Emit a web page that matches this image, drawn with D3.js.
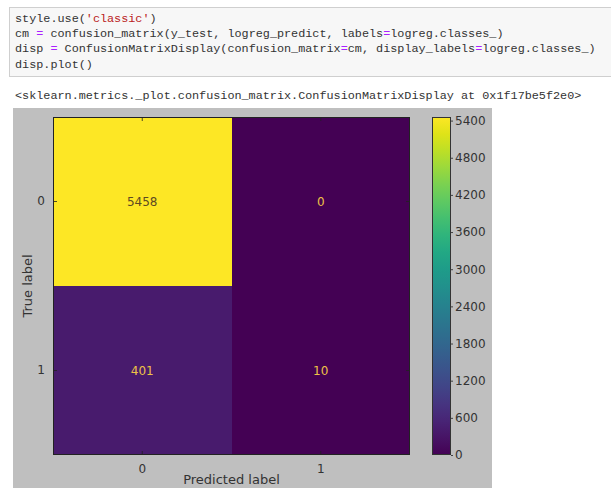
<!DOCTYPE html>
<html>
<head>
<meta charset="utf-8">
<script src="https://cdn.jsdelivr.net/npm/d3@7"></script>
<style>
  html, body { margin: 0; padding: 0; background: #fff; }
  svg { display: block; }
</style>
</head>
<body>
<script>
// Notebook cell source: each line is a list of [text, kind] tokens
const codeLines = [
  [["style.use(", "code"], ["'classic'", "str"], [")", "code"]],
  [["cm ", "code"], ["=", "op"], [" confusion_matrix(y_test, logreg_predict, labels", "code"], ["=", "op"], ["logreg.classes_)", "code"]],
  [["disp ", "code"], ["=", "op"], [" ConfusionMatrixDisplay(confusion_matrix", "code"], ["=", "op"], ["cm, display_labels", "code"], ["=", "op"], ["logreg.classes_)", "code"]],
  [["disp.plot()", "code"]]
];
const outputLine = "<sklearn.metrics._plot.confusion_matrix.ConfusionMatrixDisplay at 0x1f17be5f2e0>";

// Confusion matrix
const trueLabels = ["0", "1"];
const predLabels = ["0", "1"];
const row0 = [5458, 0];
const row1 = [401, 10];
const colorbarTicks = [0, 600, 1200, 1800, 2400, 3000, 3600, 4200, 4800, 5400];

const matrix = [row0, row1];
const cells = [];
matrix.forEach((row, i) => row.forEach((v, j) => cells.push({ t: trueLabels[i], p: predLabels[j], v })));
const vmin = d3.min(cells, d => d.v), vmax = d3.max(cells, d => d.v);
const color = d3.scaleSequential(d3.interpolateViridis).domain([vmin, vmax]);

const W = 611, H = 488;
const svg = d3.select("body").append("svg").attr("width", W).attr("height", H);

// ---- code cell ----
const tokenColor = { code: "#333333", str: "#ba2121", op: "#aa22ff" };
svg.append("rect").attr("x", 9.5).attr("y", 7.5).attr("width", 620).attr("height", 69)
  .attr("fill", "#f7f7f7").attr("stroke", "#cfcfcf");
const mono = "'Liberation Mono', 'DejaVu Sans Mono', monospace";
codeLines.forEach((line, i) => {
  const t = svg.append("text").attr("x", 15).attr("y", 22 + i * 15.2)
    .attr("font-family", mono).attr("font-size", 11.8).attr("xml:space", "preserve");
  line.forEach(([txt, kind]) => t.append("tspan").attr("fill", tokenColor[kind]).text(txt));
});
svg.append("text").attr("x", 15).attr("y", 99)
  .attr("font-family", mono).attr("font-size", 11.8).attr("fill", "#333333")
  .text(outputLine);

// ---- figure ----
svg.append("rect").attr("x", 13).attr("y", 108).attr("width", 479).attr("height", H - 108)
  .attr("fill", "#bfbfbf");

const ax = { x0: 53, x1: 410, y0: 117, y1: 455 };
const x = d3.scaleBand().domain(predLabels).range([ax.x0, ax.x1]);
const y = d3.scaleBand().domain(trueLabels).range([ax.y0, ax.y1]);

const plot = svg.append("g");
plot.selectAll("rect.cell").data(cells).join("rect").attr("class", "cell")
  .attr("x", d => x(d.p)).attr("y", d => y(d.t))
  .attr("width", x.bandwidth()).attr("height", y.bandwidth())
  .attr("fill", d => color(d.v))
  .attr("shape-rendering", "crispEdges");

const thresh = (vmin + vmax) / 2;
plot.selectAll("text.val").data(cells).join("text").attr("class", "val")
  .attr("x", d => x(d.p) + x.bandwidth() / 2)
  .attr("y", d => y(d.t) + y.bandwidth() / 2)
  .attr("dy", "0.35em").attr("text-anchor", "middle")
  .attr("font-family", "'DejaVu Sans', sans-serif").attr("font-size", 12)
  .attr("fill", d => d.v < thresh ? "#eec247" : "#5e4a22")
  .text(d => d.v);

const sans = "'DejaVu Sans', sans-serif";
function styleAxis(g) {
  g.select(".domain").remove();
  g.selectAll(".tick line").attr("stroke", "#222").attr("stroke-width", 0.8);
  g.selectAll(".tick text").attr("font-family", sans).attr("font-size", 12).attr("fill", "#333");
}
// ticks point inward on all four sides
svg.append("g").attr("transform", `translate(0,${ax.y1})`)
  .call(d3.axisBottom(x).tickSize(-4).tickPadding(9)).call(styleAxis);
svg.append("g").attr("transform", `translate(0,${ax.y0})`)
  .call(d3.axisTop(x).tickSize(-4).tickFormat("")).call(styleAxis);
svg.append("g").attr("transform", `translate(${ax.x0},0)`)
  .call(d3.axisLeft(y).tickSize(-4).tickPadding(8)).call(styleAxis);
svg.append("g").attr("transform", `translate(${ax.x1},0)`)
  .call(d3.axisRight(y).tickSize(-4).tickFormat("")).call(styleAxis);

svg.append("rect").attr("x", ax.x0 + 0.5).attr("y", ax.y0 + 0.5)
  .attr("width", ax.x1 - ax.x0 - 1).attr("height", ax.y1 - ax.y0 - 1)
  .attr("fill", "none").attr("stroke", "#222");

svg.append("text").attr("x", (ax.x0 + ax.x1) / 2).attr("y", 484)
  .attr("text-anchor", "middle").attr("font-family", sans).attr("font-size", 13).attr("fill", "#333")
  .text("Predicted label");
svg.append("text").attr("transform", `translate(32,${(ax.y0 + ax.y1) / 2}) rotate(-90)`)
  .attr("text-anchor", "middle").attr("font-family", sans).attr("font-size", 13).attr("fill", "#333")
  .text("True label");

// ---- colorbar ----
const cb = { x0: 432, x1: 451, y0: 117, y1: 455 };
const cbScale = d3.scaleLinear().domain([vmin, vmax]).range([cb.y1, cb.y0]);
const defs = svg.append("defs");
const grad = defs.append("linearGradient").attr("id", "cbgrad")
  .attr("x1", 0).attr("y1", 1).attr("x2", 0).attr("y2", 0);
d3.range(0, 1.0001, 0.05).forEach(t => grad.append("stop")
  .attr("offset", t).attr("stop-color", d3.interpolateViridis(t)));
svg.append("rect").attr("x", cb.x0).attr("y", cb.y0)
  .attr("width", cb.x1 - cb.x0).attr("height", cb.y1 - cb.y0)
  .attr("fill", "url(#cbgrad)");
svg.append("g").attr("transform", `translate(${cb.x1},0)`)
  .call(d3.axisRight(cbScale).tickValues(colorbarTicks).tickSize(2).tickPadding(2).tickFormat(d3.format("d")))
  .call(styleAxis);
svg.append("rect").attr("x", cb.x0 + 0.5).attr("y", cb.y0 + 0.5)
  .attr("width", cb.x1 - cb.x0 - 1).attr("height", cb.y1 - cb.y0 - 1)
  .attr("fill", "none").attr("stroke", "#333");
</script>
</body>
</html>
